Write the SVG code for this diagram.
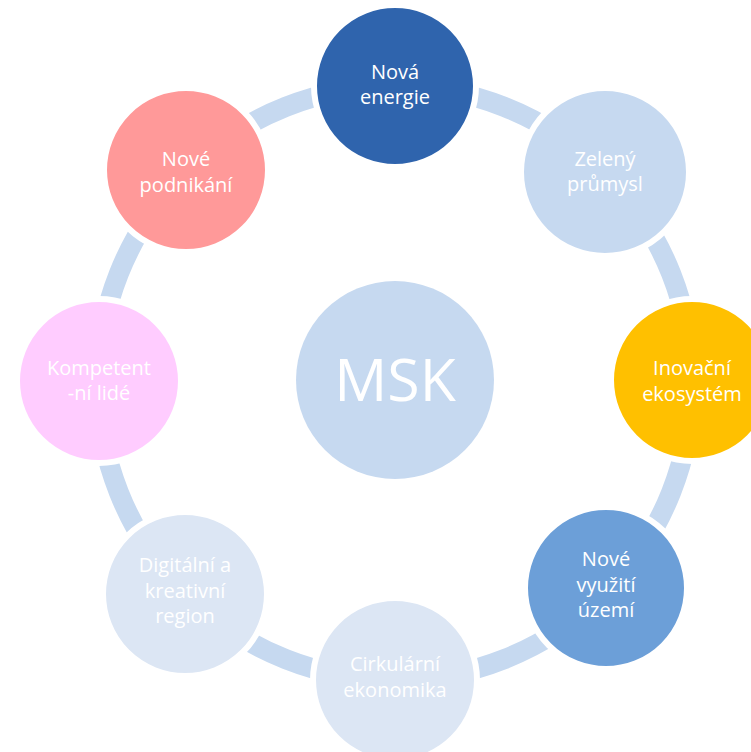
<svg xmlns="http://www.w3.org/2000/svg" width="751" height="752" viewBox="0 0 751 752">
<style>
.node { stroke: #ffffff; stroke-width: 6; }
.lbl { font-family: "Open Sans", "Liberation Sans", sans-serif; font-size: 20px; fill: #ffffff; text-anchor: middle; }
.ring { fill: none; stroke: #C6D9F0; stroke-width: 20; }
</style>
<rect width="751" height="752" fill="#ffffff"/>
<g id="connectors">
  <circle class="ring" cx="395" cy="383" r="297"/>
</g>
<g id="msk">
  <circle cx="395" cy="380" r="99" fill="#C6D9F0"/>
  <text x="395" y="401" style="font-family: 'Open Sans', 'Liberation Sans', sans-serif; font-size: 59px; fill: #ffffff; text-anchor: middle;">MSK</text>
</g>
<g id="nova-energie">
  <circle class="node" cx="395" cy="86" r="81" fill="#2F64AD"/>
  <text class="lbl" x="395" y="79">Nová</text>
  <text class="lbl" x="395" y="104">energie</text>
</g>
<g id="zeleny-prumysl">
  <circle class="node" cx="605" cy="172" r="84" fill="#C6D9F0"/>
  <text class="lbl" x="605" y="166">Zelený</text>
  <text class="lbl" x="605" y="191">průmysl</text>
</g>
<g id="inovacni-ekosystem">
  <circle class="node" cx="692" cy="380" r="81" fill="#FFC000"/>
  <text class="lbl" x="692" y="375">Inovační</text>
  <text class="lbl" x="692" y="401">ekosystém</text>
</g>
<g id="nove-vyuziti-uzemi">
  <circle class="node" cx="606" cy="588" r="81" fill="#6C9FD8"/>
  <text class="lbl" x="606" y="566">Nové</text>
  <text class="lbl" x="606" y="592">využití</text>
  <text class="lbl" x="606" y="617">území</text>
</g>
<g id="cirkularni-ekonomika">
  <circle class="node" cx="395" cy="680" r="82" fill="#DCE6F4"/>
  <text class="lbl" x="395" y="671">Cirkulární</text>
  <text class="lbl" x="395" y="697">ekonomika</text>
</g>
<g id="digitalni-kreativni-region">
  <circle class="node" cx="185" cy="594" r="82" fill="#DCE6F4"/>
  <text class="lbl" x="185" y="572">Digitální a</text>
  <text class="lbl" x="185" y="598">kreativní</text>
  <text class="lbl" x="185" y="623">region</text>
</g>
<g id="kompetentni-lide">
  <circle class="node" cx="99" cy="381" r="82" fill="#FFCCFF"/>
  <text class="lbl" x="99" y="375">Kompetent</text>
  <text class="lbl" x="99" y="400">-ní lidé</text>
</g>
<g id="nove-podnikani">
  <circle class="node" cx="186" cy="170" r="82" fill="#FF9999"/>
  <text class="lbl" x="186" y="166">Nové</text>
  <text class="lbl" x="186" y="192">podnikání</text>
</g>
</svg>
